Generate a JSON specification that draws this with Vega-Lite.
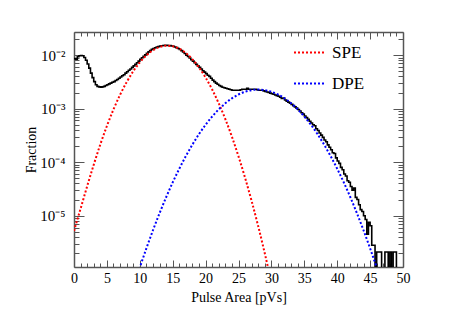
{
  "$schema": "https://vega.github.io/schema/vega-lite/v6.json",
  "width": 329,
  "height": 235,
  "autosize": {"type": "none"},
  "padding": {"left": 74, "top": 32, "right": 60, "bottom": 48},
  "background": "white",
  "config": {
    "view": {"stroke": null},
    "axis": {
      "labelFont": "Liberation Serif",
      "titleFont": "Liberation Serif",
      "labelFontSize": 14,
      "titleFontSize": 14,
      "titleFontWeight": "normal",
      "labelColor": "black",
      "titleColor": "black",
      "domainColor": "#555",
      "domainWidth": 1.5,
      "tickColor": "#555",
      "tickWidth": 1,
      "grid": false
    }
  },
  "datasets": {
    "hist": [
      {"x": 0.0, "y": 0.0086}, {"x": 0.25, "y": 0.0084}, {"x": 0.5, "y": 0.0093}, {"x": 0.75, "y": 0.0097},
      {"x": 1.0, "y": 0.0098}, {"x": 1.25, "y": 0.0097}, {"x": 1.5, "y": 0.0090}, {"x": 1.75, "y": 0.0080},
      {"x": 2.0, "y": 0.0068}, {"x": 2.25, "y": 0.0057}, {"x": 2.5, "y": 0.0046}, {"x": 2.75, "y": 0.0038},
      {"x": 3.0, "y": 0.0032}, {"x": 3.25, "y": 0.0028}, {"x": 3.5, "y": 0.0026}, {"x": 3.75, "y": 0.00255},
      {"x": 4.0, "y": 0.0025}, {"x": 4.25, "y": 0.00255}, {"x": 4.5, "y": 0.0026}, {"x": 4.75, "y": 0.0027},
      {"x": 5.0, "y": 0.0028}, {"x": 5.25, "y": 0.0029}, {"x": 5.5, "y": 0.0030}, {"x": 5.75, "y": 0.0031},
      {"x": 6.0, "y": 0.0032}, {"x": 6.25, "y": 0.00335}, {"x": 6.5, "y": 0.0035}, {"x": 6.75, "y": 0.0037},
      {"x": 7.0, "y": 0.0039}, {"x": 7.25, "y": 0.0041}, {"x": 7.5, "y": 0.0043}, {"x": 7.75, "y": 0.0046},
      {"x": 8.0, "y": 0.0049}, {"x": 8.25, "y": 0.0052}, {"x": 8.5, "y": 0.0055}, {"x": 8.75, "y": 0.0059},
      {"x": 9.0, "y": 0.0063}, {"x": 9.25, "y": 0.0067}, {"x": 9.5, "y": 0.0072}, {"x": 9.75, "y": 0.0077},
      {"x": 10.0, "y": 0.0083}, {"x": 10.25, "y": 0.0089}, {"x": 10.5, "y": 0.0095}, {"x": 10.75, "y": 0.0101},
      {"x": 11.0, "y": 0.0108}, {"x": 11.25, "y": 0.0115}, {"x": 11.5, "y": 0.0122}, {"x": 11.75, "y": 0.0128},
      {"x": 12.0, "y": 0.0133}, {"x": 12.25, "y": 0.0137}, {"x": 12.5, "y": 0.0141}, {"x": 12.75, "y": 0.0144},
      {"x": 13.0, "y": 0.0147}, {"x": 13.25, "y": 0.0149}, {"x": 13.5, "y": 0.0151}, {"x": 13.75, "y": 0.0152},
      {"x": 14.0, "y": 0.0152}, {"x": 14.25, "y": 0.0151}, {"x": 14.5, "y": 0.0150}, {"x": 14.75, "y": 0.0148},
      {"x": 15.0, "y": 0.0146}, {"x": 15.25, "y": 0.0142}, {"x": 15.5, "y": 0.0138}, {"x": 15.75, "y": 0.0133},
      {"x": 16.0, "y": 0.0127}, {"x": 16.25, "y": 0.0121}, {"x": 16.5, "y": 0.0114}, {"x": 16.75, "y": 0.0107},
      {"x": 17.0, "y": 0.0100}, {"x": 17.25, "y": 0.0094}, {"x": 17.5, "y": 0.0088}, {"x": 17.75, "y": 0.0082},
      {"x": 18.0, "y": 0.0077}, {"x": 18.25, "y": 0.0072}, {"x": 18.5, "y": 0.0067}, {"x": 18.75, "y": 0.0063},
      {"x": 19.0, "y": 0.0059}, {"x": 19.25, "y": 0.0055}, {"x": 19.5, "y": 0.0051}, {"x": 19.75, "y": 0.0048},
      {"x": 20.0, "y": 0.0045}, {"x": 20.25, "y": 0.0042}, {"x": 20.5, "y": 0.0040}, {"x": 20.75, "y": 0.0037},
      {"x": 21.0, "y": 0.0034}, {"x": 21.25, "y": 0.0032}, {"x": 21.5, "y": 0.0030}, {"x": 21.75, "y": 0.00285},
      {"x": 22.0, "y": 0.0027}, {"x": 22.25, "y": 0.0026}, {"x": 22.5, "y": 0.0025}, {"x": 22.75, "y": 0.00245},
      {"x": 23.0, "y": 0.0024}, {"x": 23.25, "y": 0.00235}, {"x": 23.5, "y": 0.0023}, {"x": 23.75, "y": 0.00225},
      {"x": 24.0, "y": 0.0022}, {"x": 24.25, "y": 0.0022}, {"x": 24.5, "y": 0.0022}, {"x": 24.75, "y": 0.0022},
      {"x": 25.0, "y": 0.0022}, {"x": 25.25, "y": 0.00225}, {"x": 25.5, "y": 0.0023}, {"x": 25.75, "y": 0.0023},
      {"x": 26.0, "y": 0.0023}, {"x": 26.25, "y": 0.0024}, {"x": 26.5, "y": 0.0023}, {"x": 26.75, "y": 0.0023},
      {"x": 27.0, "y": 0.0023}, {"x": 27.25, "y": 0.0023}, {"x": 27.5, "y": 0.0023}, {"x": 27.75, "y": 0.00225},
      {"x": 28.0, "y": 0.0022}, {"x": 28.25, "y": 0.0022}, {"x": 28.5, "y": 0.0022}, {"x": 28.75, "y": 0.00215},
      {"x": 29.0, "y": 0.0021}, {"x": 29.25, "y": 0.00205}, {"x": 29.5, "y": 0.0020}, {"x": 29.75, "y": 0.00195},
      {"x": 30.0, "y": 0.0019}, {"x": 30.25, "y": 0.00185}, {"x": 30.5, "y": 0.0018}, {"x": 30.75, "y": 0.00175},
      {"x": 31.0, "y": 0.0017}, {"x": 31.25, "y": 0.00163}, {"x": 31.5, "y": 0.00155}, {"x": 31.75, "y": 0.00158},
      {"x": 32.0, "y": 0.00145}, {"x": 32.25, "y": 0.00138}, {"x": 32.5, "y": 0.00132}, {"x": 32.75, "y": 0.00126},
      {"x": 33.0, "y": 0.00120}, {"x": 33.25, "y": 0.00114}, {"x": 33.5, "y": 0.00108}, {"x": 33.75, "y": 0.00102},
      {"x": 34.0, "y": 0.00096}, {"x": 34.25, "y": 0.00090}, {"x": 34.5, "y": 0.00084}, {"x": 34.75, "y": 0.00079},
      {"x": 35.0, "y": 0.00073}, {"x": 35.25, "y": 0.00068}, {"x": 35.5, "y": 0.00063}, {"x": 35.75, "y": 0.00058},
      {"x": 36.0, "y": 0.00054}, {"x": 36.25, "y": 0.00050}, {"x": 36.5, "y": 0.00048}, {"x": 36.75, "y": 0.00042},
      {"x": 37.0, "y": 0.00039}, {"x": 37.25, "y": 0.00035}, {"x": 37.5, "y": 0.00032}, {"x": 37.75, "y": 0.00029},
      {"x": 38.0, "y": 0.00026}, {"x": 38.25, "y": 0.00024}, {"x": 38.5, "y": 0.00021}, {"x": 38.75, "y": 0.00019},
      {"x": 39.0, "y": 0.00017}, {"x": 39.25, "y": 0.00015}, {"x": 39.5, "y": 0.000145}, {"x": 39.75, "y": 0.00012},
      {"x": 40.0, "y": 0.000105}, {"x": 40.25, "y": 0.000095}, {"x": 40.5, "y": 0.000080}, {"x": 40.75, "y": 0.000072},
      {"x": 41.0, "y": 0.000060}, {"x": 41.25, "y": 0.000055}, {"x": 41.5, "y": 0.000045}, {"x": 41.75, "y": 0.000042},
      {"x": 42.0, "y": 0.000035}, {"x": 42.25, "y": 0.000030}, {"x": 42.5, "y": 0.000033}, {"x": 42.75, "y": 0.000022},
      {"x": 43.0, "y": 0.000020}, {"x": 43.25, "y": 0.000016}, {"x": 43.5, "y": 0.000013}, {"x": 43.75, "y": 0.000012},
      {"x": 44.0, "y": 0.000010}, {"x": 44.25, "y": 0.0000085}, {"x": 44.5, "y": 0.0000045}, {"x": 44.75, "y": 0.0000075},
      {"x": 45.0, "y": 0.0000065}, {"x": 45.25, "y": 0.0000028}, {"x": 45.5, "y": 0.0000028}, {"x": 45.75, "y": 0.0000001},
      {"x": 46.0, "y": 0.0000021}, {"x": 46.25, "y": 0.0000021}, {"x": 46.5, "y": 0.0000021}, {"x": 46.75, "y": 0.0000001},
      {"x": 47.0, "y": 0.0000001}, {"x": 47.25, "y": 0.0000021}, {"x": 47.5, "y": 0.0000021}, {"x": 47.75, "y": 0.0000001},
      {"x": 48.0, "y": 0.0000021}, {"x": 48.25, "y": 0.0000001}, {"x": 48.5, "y": 0.0000021}, {"x": 48.75, "y": 0.0000021},
      {"x": 49.0, "y": 0.0000001}, {"x": 49.25, "y": 0.0000001}, {"x": 49.5, "y": 0.0000001}, {"x": 49.75, "y": 0.0000001},
      {"x": 50.0, "y": 0.0000001}
    ],
    "curves": [
      {"curve": "SPE", "x": 0, "y": 0.0000052}, {"curve": "SPE", "x": 1, "y": 0.0000135}, {"curve": "SPE", "x": 2, "y": 0.0000355},
      {"curve": "SPE", "x": 3, "y": 0.0000896}, {"curve": "SPE", "x": 4, "y": 0.000215}, {"curve": "SPE", "x": 5, "y": 0.000474},
      {"curve": "SPE", "x": 6, "y": 0.000965}, {"curve": "SPE", "x": 7, "y": 0.00181}, {"curve": "SPE", "x": 8, "y": 0.00312},
      {"curve": "SPE", "x": 9, "y": 0.00497}, {"curve": "SPE", "x": 10, "y": 0.0073}, {"curve": "SPE", "x": 11, "y": 0.00988},
      {"curve": "SPE", "x": 12, "y": 0.01231}, {"curve": "SPE", "x": 13, "y": 0.01414}, {"curve": "SPE", "x": 14, "y": 0.01498},
      {"curve": "SPE", "x": 15, "y": 0.01461}, {"curve": "SPE", "x": 16, "y": 0.01314}, {"curve": "SPE", "x": 17, "y": 0.01089},
      {"curve": "SPE", "x": 18, "y": 0.00832}, {"curve": "SPE", "x": 19, "y": 0.00586}, {"curve": "SPE", "x": 20, "y": 0.0038},
      {"curve": "SPE", "x": 21, "y": 0.00227}, {"curve": "SPE", "x": 22, "y": 0.00125}, {"curve": "SPE", "x": 23, "y": 0.000636},
      {"curve": "SPE", "x": 24, "y": 0.000298}, {"curve": "SPE", "x": 25, "y": 0.000128}, {"curve": "SPE", "x": 26, "y": 0.000051},
      {"curve": "SPE", "x": 27, "y": 0.0000187}, {"curve": "SPE", "x": 28, "y": 0.00000632}, {"curve": "SPE", "x": 29, "y": 0.00000196},
      {"curve": "SPE", "x": 30, "y": 0.00000056},
      {"curve": "DPE", "x": 9, "y": 0.000000446}, {"curve": "DPE", "x": 10, "y": 0.00000107}, {"curve": "DPE", "x": 11, "y": 0.00000245},
      {"curve": "DPE", "x": 12, "y": 0.00000534}, {"curve": "DPE", "x": 13, "y": 0.0000111}, {"curve": "DPE", "x": 14, "y": 0.0000221},
      {"curve": "DPE", "x": 15, "y": 0.0000418}, {"curve": "DPE", "x": 16, "y": 0.0000754}, {"curve": "DPE", "x": 17, "y": 0.00013},
      {"curve": "DPE", "x": 18, "y": 0.000213}, {"curve": "DPE", "x": 19, "y": 0.000335}, {"curve": "DPE", "x": 20, "y": 0.0005},
      {"curve": "DPE", "x": 21, "y": 0.000713}, {"curve": "DPE", "x": 22, "y": 0.000969}, {"curve": "DPE", "x": 23, "y": 0.001257},
      {"curve": "DPE", "x": 24, "y": 0.001555}, {"curve": "DPE", "x": 25, "y": 0.001835}, {"curve": "DPE", "x": 26, "y": 0.002065},
      {"curve": "DPE", "x": 27, "y": 0.002217}, {"curve": "DPE", "x": 28, "y": 0.00227}, {"curve": "DPE", "x": 29, "y": 0.002217},
      {"curve": "DPE", "x": 30, "y": 0.002065}, {"curve": "DPE", "x": 31, "y": 0.001835}, {"curve": "DPE", "x": 32, "y": 0.001555},
      {"curve": "DPE", "x": 33, "y": 0.001257}, {"curve": "DPE", "x": 34, "y": 0.000969}, {"curve": "DPE", "x": 35, "y": 0.000713},
      {"curve": "DPE", "x": 36, "y": 0.0005}, {"curve": "DPE", "x": 37, "y": 0.000335}, {"curve": "DPE", "x": 38, "y": 0.000213},
      {"curve": "DPE", "x": 39, "y": 0.00013}, {"curve": "DPE", "x": 40, "y": 0.0000754}, {"curve": "DPE", "x": 41, "y": 0.0000418},
      {"curve": "DPE", "x": 42, "y": 0.0000221}, {"curve": "DPE", "x": 43, "y": 0.0000111}, {"curve": "DPE", "x": 44, "y": 0.00000534},
      {"curve": "DPE", "x": 45, "y": 0.00000245}, {"curve": "DPE", "x": 46, "y": 0.00000107}, {"curve": "DPE", "x": 47, "y": 0.000000446}
    ]
  },
  "layer": [
    {
      "data": {"name": "hist"},
      "mark": {"type": "line", "interpolate": "step-after", "color": "black", "strokeWidth": 1.6, "clip": true},
      "encoding": {
        "x": {
          "field": "x", "type": "quantitative",
          "scale": {"domain": [0, 50], "nice": false, "zero": false},
          "axis": {
            "orient": "bottom",
            "title": "Pulse Area [pVs]",
            "values": [0,1,2,3,4,5,6,7,8,9,10,11,12,13,14,15,16,17,18,19,20,21,22,23,24,25,26,27,28,29,30,31,32,33,34,35,36,37,38,39,40,41,42,43,44,45,46,47,48,49,50],
            "labelExpr": "datum.value % 5 == 0 ? datum.label : ''",
            "labelOverlap": false,
            "labelFlush": false,
            "labelPadding": 11,
            "tickSize": {"condition": {"test": "datum.value % 5 == 0", "value": -7}, "value": -4},
            "titlePadding": 2
          }
        },
        "y": {
          "field": "y", "type": "quantitative",
          "scale": {"type": "log", "domain": [0.0000011, 0.027], "nice": false},
          "axis": {
            "orient": "left",
            "title": "Fraction",
            "values": [0.000002,0.000003,0.000004,0.000005,0.000006,0.000007,0.000008,0.000009,0.00001,0.00002,0.00003,0.00004,0.00005,0.00006,0.00007,0.00008,0.00009,0.0001,0.0002,0.0003,0.0004,0.0005,0.0006,0.0007,0.0008,0.0009,0.001,0.002,0.003,0.004,0.005,0.006,0.007,0.008,0.009,0.01,0.02],
            "labelExpr": "datum.value == 0.00001 ? '10⁻⁵' : datum.value == 0.0001 ? '10⁻⁴' : datum.value == 0.001 ? '10⁻³' : datum.value == 0.01 ? '10⁻²' : ''",
            "labelOverlap": false,
            "labelFlush": false,
            "labelFontSize": 15,
            "labelPadding": 19,
            "tickSize": {"condition": {"test": "datum.value == 0.00001 || datum.value == 0.0001 || datum.value == 0.001 || datum.value == 0.01", "value": -10}, "value": -5},
            "titlePadding": 1
          }
        }
      }
    },
    {
      "data": {"name": "curves"},
      "mark": {"type": "line", "strokeWidth": 2, "strokeDash": [2, 2], "clip": true, "interpolate": "monotone"},
      "encoding": {
        "x": {
          "field": "x", "type": "quantitative",
          "axis": {
            "orient": "top",
            "title": null,
            "labels": false,
            "values": [0,1,2,3,4,5,6,7,8,9,10,11,12,13,14,15,16,17,18,19,20,21,22,23,24,25,26,27,28,29,30,31,32,33,34,35,36,37,38,39,40,41,42,43,44,45,46,47,48,49,50],
            "tickSize": {"condition": {"test": "datum.value % 5 == 0", "value": -7}, "value": -4}
          }
        },
        "y": {
          "field": "y", "type": "quantitative",
          "axis": {
            "orient": "right",
            "title": null,
            "labels": false,
            "values": [0.000002,0.000003,0.000004,0.000005,0.000006,0.000007,0.000008,0.000009,0.00001,0.00002,0.00003,0.00004,0.00005,0.00006,0.00007,0.00008,0.00009,0.0001,0.0002,0.0003,0.0004,0.0005,0.0006,0.0007,0.0008,0.0009,0.001,0.002,0.003,0.004,0.005,0.006,0.007,0.008,0.009,0.01,0.02],
            "tickSize": {"condition": {"test": "datum.value == 0.00001 || datum.value == 0.0001 || datum.value == 0.001 || datum.value == 0.01", "value": -10}, "value": -5}
          }
        },
        "color": {
          "field": "curve", "type": "nominal",
          "scale": {"domain": ["SPE", "DPE"], "range": ["#ff0000", "#0000ff"]},
          "legend": {
            "orient": "none",
            "legendX": 219,
            "legendY": 4,
            "title": null,
            "padding": 0,
            "symbolType": "stroke",
            "symbolStrokeWidth": 2,
            "symbolDash": [2, 2],
            "symbolSize": 961,
            "labelFont": "Liberation Serif",
            "labelFontSize": 17,
            "labelColor": "black",
            "labelOffset": 6,
            "rowPadding": 6
          }
        }
      }
    }
  ],
  "resolve": {"axis": {"x": "independent", "y": "independent"}}
}
